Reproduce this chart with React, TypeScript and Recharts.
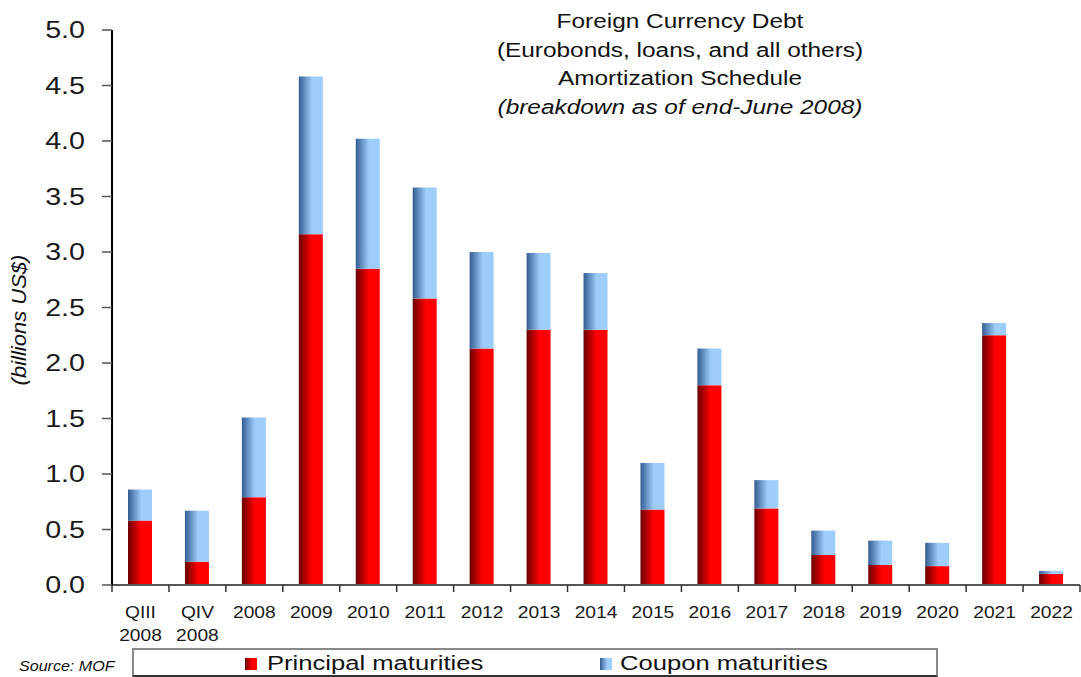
import { BarChart, Bar, XAxis, YAxis } from 'recharts';

const categories = ['QIII\n2008', 'QIV\n2008', '2008', '2009', '2010', '2011', '2012', '2013', '2014', '2015', '2016', '2017', '2018', '2019', '2020', '2021', '2022'];
const principal = [0.58, 0.21, 0.79, 3.16, 2.85, 2.58, 2.13, 2.3, 2.3, 0.68, 1.8, 0.69, 0.27, 0.18, 0.17, 2.25, 0.1];
const coupon = [0.28, 0.46, 0.72, 1.42, 1.17, 1.0, 0.87, 0.69, 0.51, 0.42, 0.33, 0.255, 0.22, 0.22, 0.21, 0.11, 0.027];
const yTicks = [0, 0.5, 1, 1.5, 2, 2.5, 3, 3.5, 4, 4.5, 5];
const titleLines = ['Foreign Currency Debt', '(Eurobonds, loans, and all others)', 'Amortization Schedule'];
const subtitle = '(breakdown as of end-June 2008)';

const data = categories.map((name, i) => ({ name, principal: principal[i], coupon: coupon[i] }));

const FONT = '"Liberation Sans", Arial, Helvetica, sans-serif';
const PLOT_LEFT = 112;
const PLOT_RIGHT = 1080;
const STEP = (PLOT_RIGHT - PLOT_LEFT) / categories.length;
const WIDE = 1.22; // the original's lettering is set wider than Arial

const XTick = (props: any) => {
  const { x, y, payload, index } = props;
  const lines = String(payload.value).split('\n');
  const half = STEP / 2;
  return (
    <g>
      <line x1={x - half} x2={x - half} y1={y} y2={y + 7} stroke="#333" strokeWidth={1.5} />
      {index === categories.length - 1 && (
        <line x1={x + half} x2={x + half} y1={y} y2={y + 7} stroke="#333" strokeWidth={1.5} />
      )}
      {lines.map((l, i) => (
        <g key={i} transform={`translate(${x},${y + 33 + i * 22.5}) scale(1.2,1)`}>
          <text x={0} y={0} textAnchor="middle" fontSize={16} fill="#1a1a1a" fontFamily={FONT}>
            {l}
          </text>
        </g>
      ))}
    </g>
  );
};

const YTick = (props: any) => {
  const { x, y, payload } = props;
  return (
    <g transform={`translate(${x},${y}) scale(${WIDE},1)`}>
      <text x={0} y={0} dy="0.36em" textAnchor="end" fontSize={23.5} fill="#1a1a1a" fontFamily={FONT}>
        {Number(payload.value).toFixed(1)}
      </text>
    </g>
  );
};

export default function App() {
  return (
    <div style={{ position: 'absolute', left: 0, top: 0, width: 1081, height: 677, background: '#fff', fontFamily: FONT }}>
      <svg width={0} height={0} style={{ position: 'absolute' }}>
        <defs>
          <linearGradient id="redGrad" x1="0" y1="0" x2="1" y2="0">
            <stop offset="0%" stopColor="#6a0000" />
            <stop offset="55%" stopColor="#ff0000" />
            <stop offset="100%" stopColor="#ff0000" />
          </linearGradient>
          <linearGradient id="blueGrad" x1="0" y1="0" x2="1" y2="0">
            <stop offset="0%" stopColor="#345c92" />
            <stop offset="55%" stopColor="#9dcdfb" />
            <stop offset="100%" stopColor="#9dcdfb" />
          </linearGradient>
        </defs>
      </svg>
      <BarChart width={1081} height={677} data={data} margin={{ top: 30, right: 1, left: 0, bottom: 32 }}>
        <XAxis
          dataKey="name"
          interval={0}
          height={60}
          tickLine={false}
          tickSize={0}
          tickMargin={0}
          tick={<XTick />}
          axisLine={{ stroke: '#555', strokeWidth: 2 }}
        />
        <YAxis
          width={112}
          domain={[0, 5]}
          ticks={yTicks}
          interval={0}
          tick={<YTick />}
          tickSize={10}
          tickMargin={17}
          tickLine={{ stroke: '#555', strokeWidth: 1.5 }}
          axisLine={{ stroke: '#000', strokeWidth: 2 }}
        />
        <Bar dataKey="principal" name="Principal maturities" stackId="a" barSize={24} fill="url(#redGrad)" isAnimationActive={false} />
        <Bar dataKey="coupon" name="Coupon maturities" stackId="a" barSize={24} fill="url(#blueGrad)" isAnimationActive={false} />
      </BarChart>

      <div style={{ position: 'absolute', left: 430, top: 7, width: 500, textAlign: 'center', fontSize: 20, lineHeight: '28.5px', color: '#111', transform: `scaleX(${WIDE})`, transformOrigin: '250px 0' }}>
        {titleLines.map((t) => (
          <div key={t}>{t}</div>
        ))}
        <div style={{ fontStyle: 'italic' }}>{subtitle}</div>
      </div>

      <div style={{ position: 'absolute', left: 19, top: 320, transform: 'translate(-50%, -50%) rotate(-90deg) scaleX(1.1)', fontSize: 20, fontStyle: 'italic', whiteSpace: 'nowrap', color: '#111' }}>
        (billions US$)
      </div>

      <div style={{ position: 'absolute', left: 19, top: 657, fontSize: 15, fontStyle: 'italic', color: '#111', transform: 'scaleX(1.07)', transformOrigin: '0 0' }}>Source: MOF</div>

      <div style={{ position: 'absolute', left: 132, top: 648, width: 802, height: 25, border: '2px solid #888', borderBottomColor: '#333', boxSizing: 'content-box', fontSize: 20, color: '#111' }}>
        <div style={{ position: 'absolute', left: 111, top: 8, width: 12, height: 12, background: 'linear-gradient(to right, #6a0000, #ff0000 60%)' }} />
        <div style={{ position: 'absolute', left: 133, top: 0, lineHeight: '26px', whiteSpace: 'nowrap', transform: 'scaleX(1.28)', transformOrigin: '0 0' }}>Principal maturities</div>
        <div style={{ position: 'absolute', left: 466, top: 8, width: 12, height: 12, background: 'linear-gradient(to right, #345c92, #9dcdfb 60%)' }} />
        <div style={{ position: 'absolute', left: 486, top: 0, lineHeight: '26px', whiteSpace: 'nowrap', transform: 'scaleX(1.28)', transformOrigin: '0 0' }}>Coupon maturities</div>
      </div>
    </div>
  );
}
